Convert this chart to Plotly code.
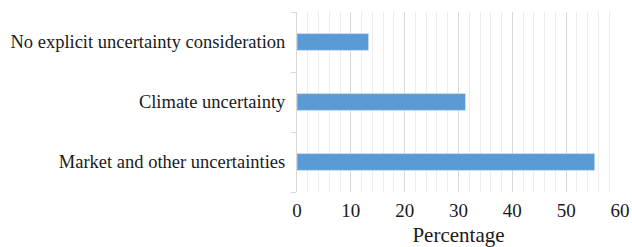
import plotly.graph_objects as go

categories = ["Market and other uncertainties", "Climate uncertainty", "No explicit uncertainty consideration"]
values = [55.3, 31.3, 13.3]
x_ticks = [0, 10, 20, 30, 40, 50, 60]

fig = go.Figure(go.Bar(
    y=categories, x=values, orientation="h",
    marker=dict(color="#5B9BD5", line=dict(color="#e8f0f8", width=0.5)),
    width=0.28,
))

font = dict(family="Liberation Serif, Times New Roman, serif", color="#1a1a1a", size=18)

fig.update_layout(
    width=632, height=247,
    margin=dict(l=297, r=12, t=12, b=55, autoexpand=False),
    paper_bgcolor="white", plot_bgcolor="white",
    font=font, showlegend=False,
    xaxis=dict(
        range=[0, 60], tickvals=x_ticks, ticktext=[str(v) for v in x_ticks],
        showgrid=True, gridcolor="#d9d9d9", gridwidth=1,
        minor=dict(dtick=2, showgrid=True, gridcolor="#ededed", gridwidth=1),
        zeroline=False, showline=False, automargin=False,
        ticklabelstandoff=5,
        title=dict(text="Percentage", font=dict(size=21), standoff=9),
        tickfont=dict(size=19),
    ),
    yaxis=dict(
        type="category", categoryorder="array", categoryarray=categories,
        showline=True, linecolor="#d9d9d9", linewidth=1,
        ticks="outside", tickson="boundaries", ticklen=5, tickcolor="#d9d9d9",
        showgrid=False, automargin=False, ticklabelstandoff=7,
        tickfont=dict(size=18.5),
    ),
)

fig.write_html(
    "out.html",
    config={"displayModeBar": False},
    post_script="document.body.style.margin='0';document.body.style.overflow='hidden';",
)
